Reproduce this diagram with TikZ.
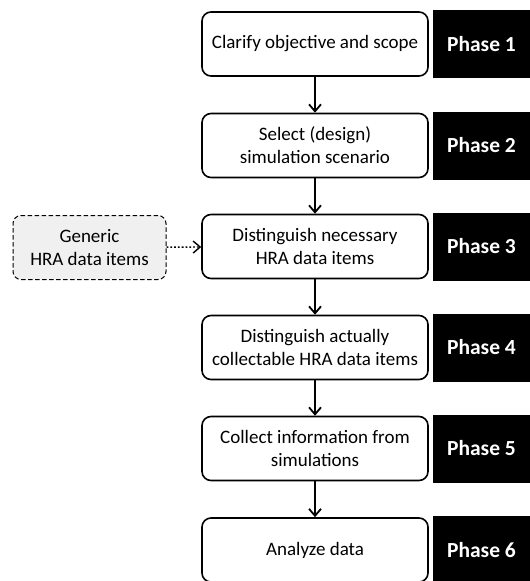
\documentclass[tikz,border=0pt]{standalone}
\usepackage{fontspec}
\setmainfont{Carlito}
\usetikzlibrary{positioning,arrows.meta}

\tikzset{
    schritt/.style={draw, line width=1.6pt, rounded corners=9pt, fill=white,
        minimum width=226pt, minimum height=64pt, align=center, inner sep=2pt,
        font=\fontsize{19}{23}\selectfont},
    phase/.style={fill=black, text=white, minimum width=97pt, minimum height=68pt,
        inner sep=0pt, font=\fontsize{21.5}{25}\selectfont\bfseries},
    quelle/.style={draw, dash pattern=on 4.5pt off 2.5pt, line width=1pt, rounded corners=8pt, fill=black!6,
        minimum width=153pt, minimum height=64pt, align=center, inner sep=2pt,
        font=\fontsize{19}{23}\selectfont},
    pfeil/.style={-{Straight Barb[length=7pt,width=12pt]}, line width=1.8pt},
}

\begin{document}
\begin{tikzpicture}[x=1pt,y=-1pt]
        \useasboundingbox (0,0) rectangle (530,581);

        % Schritte
        \node [schritt] (clarify) at (315,44) {Clarify objective and scope};
        \node [schritt] (select) at (315,145.5) {Select (design)\\simulation scenario};
        \node [schritt] (necessary) at (315,246.5) {Distinguish necessary\\HRA data items};
        \node [schritt] (collectable) at (315,347.5) {Distinguish actually\\collectable HRA data items};
        \node [schritt] (collect) at (315,448.5) {Collect information from\\simulations};
        \node [schritt] (analyze) at (315,550) {Analyze data};

        % Phasen
        \foreach \schritt/\nummer in {clarify/1, select/2, necessary/3, collectable/4, collect/5, analyze/6}
        {
            \node [phase] (phase\nummer) at (481.5,0 |- \schritt) {Phase \nummer};
        }

        \node [quelle] (generic) at (89.5,247.5) {Generic\\HRA data items};

        % Pfeile
        \draw [pfeil] (clarify) -- (select);
        \draw [pfeil] (select) -- (necessary);
        \draw [pfeil] (necessary) -- (collectable);
        \draw [pfeil] (collectable) -- (collect);
        \draw [pfeil] (collect) -- (analyze);
        \draw [pfeil, dotted, line width=1.4pt] (generic) -- (necessary);
\end{tikzpicture}
\end{document}
